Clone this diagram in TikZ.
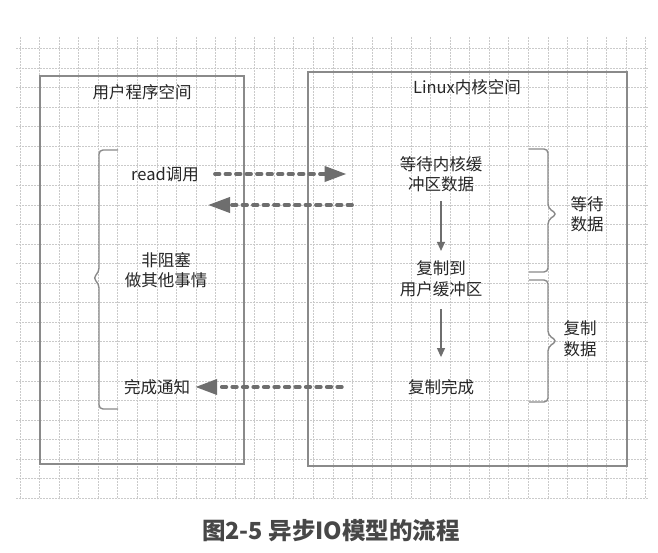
\documentclass[tikz,border=0pt]{standalone}
\usepackage{fontspec}
\setmainfont{Noto Sans CJK SC}
\usepackage{xcolor}
\usepackage{tikz}
\usetikzlibrary{arrows.meta, positioning, calc}
\definecolor{gridgray}{HTML}{CACACA}
\definecolor{boxgray}{HTML}{8A8A8A}
\definecolor{arrowgray}{HTML}{6E6E6E}
\definecolor{textgray}{HTML}{262626}
\tikzset{
    gridline/.style={
        draw=gridgray,
        line width=0.6pt,
        dash pattern=on 2pt off 1pt,
    },
    spacebox/.style={
        draw=boxgray,
        line width=1.5pt,
    },
    txt/.style={
        text=textgray,
        inner sep=0pt,
        align=center,
        font=\fontsize{16.5}{20.5}\selectfont,
    },
    async/.style={
        draw=arrowgray,
        line width=3.8pt,
        dash pattern=on 4.5pt off 6pt,
        line cap=round,
        -{Triangle[length=22pt,width=15pt,line cap=butt,fill=arrowgray]},
    },
    down/.style={
        draw=arrowgray,
        line width=1.2pt,
        -{Triangle[length=9pt,width=8pt]},
    },
    curly/.style={
        draw=boxgray,
        line width=1.4pt,
        rounded corners=4pt,
    },
}

\begin{document}
\begin{tikzpicture}[x=1pt, y=-1pt]
      \useasboundingbox[fill=white] (0,0) rectangle (658,553);

      % background grid
      \foreach \gx in {0,...,32}
          \draw[gridline] ({20+19.55*\gx},37) -- ({20+19.55*\gx},499);
      \foreach \gy in {0,...,23}
          \draw[gridline] (16,{48.5+19.55*\gy}) -- (648,{48.5+19.55*\gy});

      % the two spaces
      \draw[spacebox] (40,76) rectangle (244,464);
      \draw[spacebox] (308,72) rectangle (627,466);
      \node[txt] (user) at (142,92) {用户程序空间};
      \node[txt] (kernel) at (467,87) {Linux内核空间};

      % user side
      \node[txt] (read) at (165,174) {read调用};
      \node[txt] (other) at (166,270) {非阻塞\\做其他事情};
      \node[txt] (notify) at (157,387) {完成通知};

      % kernel side
      \node[txt] (wait) at (441,174) {等待内核缓\\冲区数据};
      \node[txt] (copyto) at (441,279) {复制到\\用户缓冲区};
      \node[txt] (done) at (441,387) {复制完成};
      \node[txt] (waitdata) at (587,214) {等待\\数据};
      \node[txt] (copydata) at (580,339) {复制\\数据};

      \coordinate (ret-k) at (352,205);
      \coordinate (ret-u) at (208,205);

      \draw[async, shorten <=16pt, shorten >=53pt] (read) -- (wait);
      \draw[async] (ret-k) -- (ret-u);
      \draw[async, shorten <=66pt, shorten >=5pt] (done) -- (notify);

      \draw[down, shorten <=9pt, shorten >=10pt] (wait) -- (copyto);
      \draw[down, shorten <=12pt, shorten >=22pt] (copyto) -- (done);

      % braces
      \draw[curly] (118,150) -- (99,150) -- (99,272) -- (93,278) -- (99,284) -- (99,409) -- (118,409);
      \draw[curly] (529,149) -- (548,149) -- (548,208) -- (557,214) -- (548,220) -- (548,272) -- (529,272);
      \draw[curly] (529,280) -- (548,280) -- (548,335) -- (557,341) -- (548,347) -- (548,402) -- (529,402);

      \node[text=textgray!85, font=\fontsize{23.5}{27}\selectfont\bfseries] (caption) at (331,531) {图2-5 异步IO模型的流程};

    \end{tikzpicture}
\end{document}
